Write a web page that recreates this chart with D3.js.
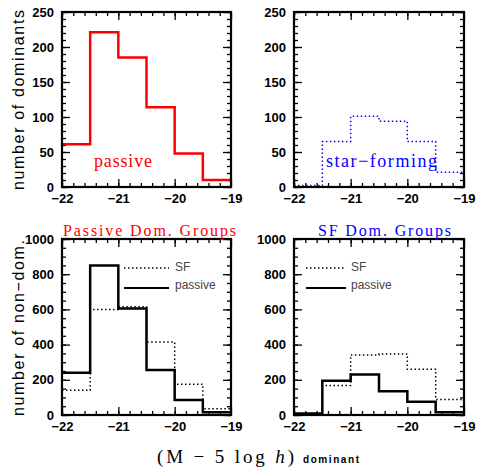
<!DOCTYPE html>
<html>
<head>
<meta charset="utf-8">
<script src="https://cdn.jsdelivr.net/npm/d3@7"></script>
<style>
  body { margin: 0; background: #fff; }
  svg { display: block; }
  .tick text { font-family: "Liberation Sans", Arial, sans-serif; font-weight: bold; font-size: 13px; fill: #000; }
  .domain { display: none; }
</style>
</head>
<body>
<div id="graph"></div>
<script>
// bin edges of the magnitude histograms
var edges = [-22, -21.5, -21, -20.5, -20, -19.5, -19];

// top row: number of dominants
var domPassive = [61, 221, 185, 114, 48, 10];
var domSF      = [2, 65, 101, 94, 65, 21];

// bottom row: non-dominant members
var pdgPassive = [240, 850, 605, 255, 85, 15];
var pdgSF      = [140, 600, 615, 415, 175, 35];
var sfdgPassive = [8, 195, 230, 135, 75, 15];
var sfdgSF      = [5, 167, 341, 347, 260, 88];

var xTicks = [-22, -21, -20, -19];
var yTicksTop = [0, 50, 100, 150, 200, 250];
var yTicksBot = [0, 200, 400, 600, 800, 1000];

var W = 477, H = 468;

var svg = d3.select("#graph")
  .append("svg")
    .attr("width", W)
    .attr("height", H);

var fmt = function(d) { return d < 0 ? "\u2212" + Math.abs(d) : d; };

// draw one framed panel, returns scales
function panel(x0, x1, y0, y1, ymax, yTicks, yMinorStep) {
  var x = d3.scaleLinear().domain([-22, -19]).range([x0, x1]);
  var y = d3.scaleLinear().domain([0, ymax]).range([y1, y0]);
  var xMinor = d3.range(-22, -19.001, 0.2);
  var yMinor = d3.range(0, ymax + 0.001, yMinorStep);
  var g = svg.append("g");

  // minor ticks
  g.append("g").attr("transform", "translate(0," + y1 + ")")
    .call(d3.axisBottom(x).tickValues(xMinor).tickSize(-4).tickFormat(""));
  g.append("g").attr("transform", "translate(0," + y0 + ")")
    .call(d3.axisTop(x).tickValues(xMinor).tickSize(-4).tickFormat(""));
  g.append("g").attr("transform", "translate(" + x0 + ",0)")
    .call(d3.axisLeft(y).tickValues(yMinor).tickSize(-4).tickFormat(""));
  g.append("g").attr("transform", "translate(" + x1 + ",0)")
    .call(d3.axisRight(y).tickValues(yMinor).tickSize(-4).tickFormat(""));

  // major ticks with labels
  g.append("g").attr("transform", "translate(0," + y1 + ")")
    .call(d3.axisBottom(x).tickValues(xTicks).tickSize(-8).tickPadding(16).tickFormat(fmt))
    .selectAll("text").attr("dy", "0em");
  g.append("g").attr("transform", "translate(0," + y0 + ")")
    .call(d3.axisTop(x).tickValues(xTicks).tickSize(-8).tickFormat(""));
  g.append("g").attr("transform", "translate(" + x0 + ",0)")
    .call(d3.axisLeft(y).tickValues(yTicks).tickSize(-8).tickPadding(8).tickFormat(fmt));
  g.append("g").attr("transform", "translate(" + x1 + ",0)")
    .call(d3.axisRight(y).tickValues(yTicks).tickSize(-8).tickFormat(""));

  g.selectAll(".tick line").attr("stroke", "#000").attr("stroke-width", 1.3);

  // frame
  g.append("rect")
    .attr("x", x0).attr("y", y0)
    .attr("width", x1 - x0).attr("height", y1 - y0)
    .attr("fill", "none")
    .attr("stroke", "#000")
    .attr("stroke-width", 2.2);

  return {x: x, y: y, g: g};
}

// histogram outline as step line
function hist(p, vals, color, width, dash) {
  var pts = edges.map(function(e, i) { return [e, vals[Math.min(i, vals.length - 1)]]; });
  p.g.insert("path", "rect")
    .datum(pts)
    .attr("fill", "none")
    .attr("stroke", color)
    .attr("stroke-width", width)
    .attr("stroke-dasharray", dash || null)
    .attr("d", d3.line()
      .x(function(d) { return p.x(d[0]); })
      .y(function(d) { return p.y(d[1]); })
      .curve(d3.curveStepAfter));
}

function label(x, y, txt, opts) {
  var t = svg.append("text")
    .attr("x", x).attr("y", y)
    .attr("font-family", opts.font || "Liberation Serif, serif")
    .attr("font-size", opts.size || 16)
    .attr("fill", opts.fill || "#000")
    .attr("font-weight", opts.weight || "normal")
    .text(txt);
  if (opts.len) t.attr("textLength", opts.len).attr("lengthAdjust", "spacing");
  if (opts.rotate) t.attr("transform", "rotate(-90," + x + "," + y + ")").attr("text-anchor", "middle");
  return t;
}

var tl = panel(62, 231, 12, 187, 250, yTicksTop, 10);
var tr = panel(294, 464, 12, 187, 250, yTicksTop, 10);
var bl = panel(62, 231, 239, 415, 1000, yTicksBot, 50);
var br = panel(294, 464, 239, 415, 1000, yTicksBot, 50);

hist(tl, domPassive, "#ff0000", 2.5);
hist(tr, domSF, "#0000ff", 1.5, "1.5,2.5");
hist(bl, pdgSF, "#000", 1.5, "1.5,2.5");
hist(bl, pdgPassive, "#000", 2.5);
hist(br, sfdgSF, "#000", 1.5, "1.5,2.5");
hist(br, sfdgPassive, "#000", 2.5);

// legends in the bottom panels
[[bl, 124, 169, 175], [br, 306, 346, 351]].forEach(function(l) {
  svg.append("line").attr("x1", l[1]).attr("x2", l[2]).attr("y1", 268).attr("y2", 268)
    .attr("stroke", "#000").attr("stroke-width", 1.5).attr("stroke-dasharray", "1.5,2.5");
  svg.append("line").attr("x1", l[1]).attr("x2", l[2]).attr("y1", 288).attr("y2", 288)
    .attr("stroke", "#000").attr("stroke-width", 2);
  label(l[3], 271, "SF", {font: "Liberation Sans, sans-serif", size: 12, fill: "#444"});
  label(l[3], 289, "passive", {font: "Liberation Sans, sans-serif", size: 12, fill: "#444"});
});

// panel texts
label(94, 167, "passive", {size: 18, fill: "#ff0000", len: 58});
label(326, 167, "star\u2212forming", {size: 18, fill: "#0000ff", len: 111});
label(63, 236, "Passive Dom. Groups", {size: 16, fill: "#ff0000", len: 173});
label(318, 236, "SF Dom. Groups", {size: 16, fill: "#0000ff", len: 133});

// axis titles
label(24, 100, "number of dominants", {font: "Liberation Sans, sans-serif", size: 16, rotate: true, len: 180});
label(24, 328, "number of non\u2212dom.", {font: "Liberation Sans, sans-serif", size: 16, rotate: true, len: 176});

var xt = svg.append("text")
  .attr("x", 157).attr("y", 463)
  .attr("font-family", "Liberation Serif, serif")
  .attr("font-size", 19)
  .attr("textLength", 137).attr("lengthAdjust", "spacing");
xt.append("tspan").text("(M \u2212 5 log ");
xt.append("tspan").attr("font-style", "italic").text("h");
xt.append("tspan").text(")");
label(303, 463, "dominant", {font: "Liberation Sans, sans-serif", size: 10, weight: "bold", len: 56});
</script>
</body>
</html>
